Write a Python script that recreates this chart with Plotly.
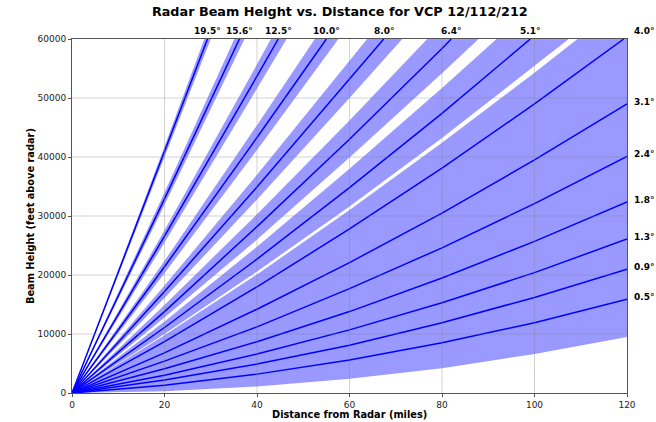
import plotly.graph_objects as go

DISTANCE = [0, 20, 40, 60, 80, 100, 120]
ANGLES = [0.5, 0.9, 1.3, 1.8, 2.4, 3.1, 4.0, 5.1, 6.4, 8.0, 10.0, 12.5, 15.6, 19.5]

# Beam centre heights (ft) at DISTANCE, stopping before the beam leaves the top of the chart
CENTER = [
    [0, 1300, 3200, 5600, 8500, 11900, 15900],
    [0, 2200, 4900, 8100, 11900, 16200, 21000],
    [0, 3000, 6600, 10700, 15300, 20400, 26100],
    [0, 4100, 8700, 13800, 19500, 25700, 32400],
    [0, 5400, 11200, 17700, 24600, 32100, 40100],
    [0, 6800, 14200, 22100, 30500, 39500, 49000],
    [0, 8700, 18000, 27800, 38100, 49000],
    [0, 11100, 22700, 34800, 47400],
    [0, 13800, 28200, 43000, 58400],
    [0, 17200, 34900, 53100],
    [0, 21400, 43300],
    [0, 26600, 53700],
    [0, 32900],
    [0, 40800],
]
# distance (miles) where the beam centre reaches the 60000 ft ceiling
CENTER_TOP = [None, None, None, None, None, None, 119.3, 99.1, 82.0, 67.4, 55.0, 44.6, 36.2, 29.3]

# Bottom edge of each beam (ft)
LOWER = [
    [0, 300, 1100, 2400, 4200, 6600, 9500],
    [0, 1100, 2800, 4900, 7600, 10900, 14600],
    [0, 2000, 4500, 7500, 11000, 15100, 19700],
    [0, 3000, 6600, 10700, 15300, 20400, 26100],
    [0, 4300, 9100, 14500, 20400, 26800, 33700],
    [0, 5800, 12100, 18900, 26300, 34200, 42600],
    [0, 7700, 15900, 24600, 33900, 43700, 54000],
    [0, 10000, 20600, 31600, 43200, 55400],
    [0, 12800, 26000, 39900, 54200],
    [0, 16100, 32800, 50000],
    [0, 20300, 41200],
    [0, 25500, 51600],
    [0, 31900],
    [0, 39800],
]
LOWER_TOP = [None, None, None, None, None, None, None, 107.4, 87.9, 71.4, 57.6, 46.4, 37.3, 30.0]

# Top edge of each beam (ft)
UPPER = [
    [0, 2400, 5300, 8700, 12700, 17200, 22300],
    [0, 3200, 7000, 11300, 16100, 21500, 27400],
    [0, 4100, 8700, 13800, 19500, 25700, 32400],
    [0, 5100, 10800, 17000, 23700, 31000, 38800],
    [0, 6400, 13400, 20800, 28800, 37400, 46400],
    [0, 7900, 16300, 25300, 34800, 44800, 55300],
    [0, 9800, 20100, 31000, 42400, 54300],
    [0, 12100, 24800, 38000, 51700],
    [0, 14900, 30300, 46200],
    [0, 18200, 37000, 56300],
    [0, 22400, 45400],
    [0, 27600, 55700],
    [0, 34000],
    [0, 41800],
]
UPPER_TOP = [None, None, None, None, None, None, 109.3, 91.8, 76.8, 63.8, 52.5, 43.0, 35.1, 28.6]

X_MAX = 120
Y_MAX = 60000
BEAM_FILL = 'rgb(153,153,255)'
BEAM_LINE = 'rgb(0,0,255)'
FONT = 'DejaVu Sans'


def beam_xy(heights, top):
    xs = DISTANCE[:len(heights)]
    ys = list(heights)
    if top is not None:
        xs = xs + [top]
        ys = ys + [Y_MAX]
    return xs, ys


fig = go.Figure()

# shaded beam width (+/- 0.5 deg)
for i in range(len(ANGLES)):
    lx, ly = beam_xy(LOWER[i], LOWER_TOP[i])
    ux, uy = beam_xy(UPPER[i], UPPER_TOP[i])
    if LOWER_TOP[i] is None and UPPER_TOP[i] is not None:
        # band runs into the top right corner
        lx = lx + [X_MAX]
        ly = ly + [Y_MAX]
    fig.add_trace(go.Scatter(
        x=lx + ux[::-1], y=ly + uy[::-1],
        mode='lines', fill='toself', fillcolor=BEAM_FILL,
        line=dict(width=0), hoverinfo='skip'
    ))

# beam centre lines
for i, ang in enumerate(ANGLES):
    cx, cy = beam_xy(CENTER[i], CENTER_TOP[i])
    fig.add_trace(go.Scatter(
        x=cx, y=cy, mode='lines', name=f'{ang:.1f}°',
        line=dict(color=BEAM_LINE, width=1.5)
    ))

    # label each beam where it leaves the plot
    if CENTER_TOP[i] is None or CENTER_TOP[i] > 110:
        fig.add_annotation(x=X_MAX, y=min(cy[-1], Y_MAX), text=f'<b>{ang:.1f}°</b>',
                           showarrow=False, xanchor='left', yanchor='middle',
                           xshift=5, yshift=8 if cy[-1] >= Y_MAX else 2,
                           font=dict(size=9, color='black', family=FONT))
    else:
        fig.add_annotation(x=CENTER_TOP[i], y=Y_MAX, text=f'<b>{ang:.1f}°</b>',
                           showarrow=False, xanchor='center', yanchor='bottom',
                           yshift=1, font=dict(size=9, color='black', family=FONT))

# grid drawn over the shading, like the original
for gx in range(20, X_MAX, 20):
    fig.add_vline(x=gx, line=dict(color='rgba(128,128,128,0.35)', width=1), layer='above')
for gy in range(10000, Y_MAX, 10000):
    fig.add_hline(y=gy, line=dict(color='rgba(128,128,128,0.35)', width=1), layer='above')

# axis titles
fig.add_annotation(x=0.5, y=0, xref='paper', yref='paper', yshift=-21,
                   text='<b>Distance from Radar (miles)</b>', showarrow=False,
                   xanchor='center', yanchor='middle',
                   font=dict(size=9.8, color='black', family=FONT))
fig.add_annotation(x=0, y=0.5, xref='paper', yref='paper', xshift=-42,
                   text='<b>Beam Height (feet above radar)</b>', showarrow=False,
                   textangle=-90, xanchor='center', yanchor='middle',
                   font=dict(size=9.8, color='black', family=FONT))

fig.update_layout(
    width=656, height=422,
    margin=dict(l=72, r=29, t=39, b=29),
    plot_bgcolor='white', paper_bgcolor='white',
    showlegend=False,
    font=dict(family=FONT, size=9, color='#222222'),
    title=dict(text='<b>Radar Beam Height vs. Distance for VCP 12/112/212</b>',
               x=0.518, xanchor='center', y=0.972, yanchor='middle',
               font=dict(size=12.8, color='black', family=FONT)),
)
fig.update_xaxes(
    range=[0, X_MAX], tickvals=DISTANCE, showgrid=False, zeroline=False,
    showline=True, linecolor='#555555', linewidth=1, mirror=True,
    ticks='outside', ticklen=3, tickcolor='#555555', automargin=False,
)
fig.update_yaxes(
    range=[0, Y_MAX], dtick=10000, tickformat='d', showgrid=False, zeroline=False,
    showline=True, linecolor='#555555', linewidth=1, mirror=True,
    ticks='outside', ticklen=3, tickcolor='#555555', automargin=False,
)

# drop the default page margin so the figure fills the window exactly
fig.write_html("out.html", config={'displayModeBar': False},
               post_script="document.body.style.margin = '0px';")
